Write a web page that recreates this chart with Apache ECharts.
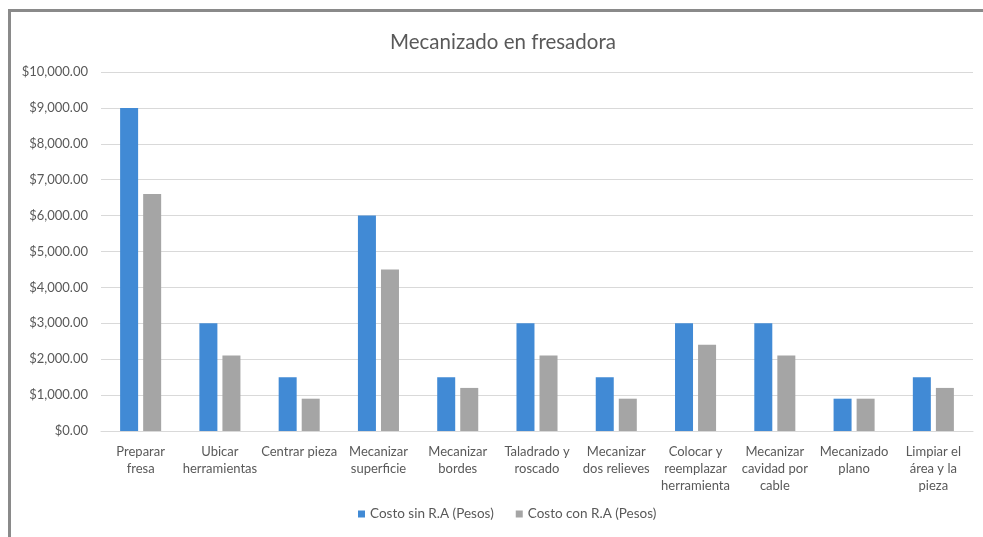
<!DOCTYPE html>
<html>
<head>
<meta charset="utf-8">
<script src="https://cdn.jsdelivr.net/npm/echarts@6/dist/echarts.min.js"></script>
<style>
  html, body { margin: 0; padding: 0; background: #ffffff; }
  #chart { width: 983px; height: 537px; }
</style>
</head>
<body>
<div id="chart"></div>
<script>
// Tareas del mecanizado en fresadora (etiquetas del eje X)
const categories = [
  'Preparar\nfresa',
  'Ubicar\nherramientas',
  'Centrar pieza',
  'Mecanizar\nsuperficie',
  'Mecanizar\nbordes',
  'Taladrado y\nroscado',
  'Mecanizar\ndos relieves',
  'Colocar y\nreemplazar\nherramienta',
  'Mecanizar\ncavidad por\ncable',
  'Mecanizado\nplano',
  'Limpiar el\nárea y la\npieza'
];

const seriesNames = ['Costo sin R.A (Pesos)', 'Costo con R.A (Pesos)'];

// Costo sin R.A (Pesos)
const costoSinRA = [9000, 3000, 1500, 6000, 1500, 3000, 1500, 3000, 3000, 900, 1500];
// Costo con R.A (Pesos)
const costoConRA = [6600, 2100, 900, 4500, 1200, 2100, 900, 2400, 2100, 900, 1200];

// Eje Y: 0 a 10,000 cada 1,000
const yMin = 0;
const yMax = 10000;
const yStep = 1000;

const fontFamily = 'Lato, "Open Sans", "DejaVu Sans", sans-serif';
const textColor = '#595959';

function formatMoney(v) {
  return '$' + v.toLocaleString('en-US', { minimumFractionDigits: 2, maximumFractionDigits: 2 });
}

const chart = echarts.init(document.getElementById('chart'), null, { renderer: 'canvas' });

chart.setOption({
  backgroundColor: '#ffffff',
  animation: false,
  color: ['#418AD5', '#A5A5A5'],
  graphic: [
    {
      type: 'rect',
      shape: { x: 9.5, y: 10.5, width: 1100, height: 700 },
      style: { fill: 'none', stroke: '#8a8a8a', lineWidth: 3 },
      silent: true,
      z: 100
    }
  ],
  title: {
    text: 'Mecanizado en fresadora',
    left: 385,
    top: 27,
    textStyle: { fontFamily, fontSize: 20.5, fontWeight: 'normal', color: textColor }
  },
  legend: {
    bottom: 11,
    left: 353,
    itemWidth: 7,
    itemHeight: 7,
    itemGap: 22,
    icon: 'rect',
    textStyle: { fontFamily, fontSize: 13.5, color: textColor },
    data: seriesNames
  },
  grid: { left: 101, right: 10, top: 72, bottom: 106 },
  xAxis: {
    type: 'category',
    data: categories,
    axisLine: { show: true, lineStyle: { color: '#d9d9d9', width: 1 } },
    axisTick: { show: false },
    axisLabel: {
      interval: 0,
      margin: 12,
      fontFamily,
      fontSize: 13,
      lineHeight: 17,
      color: textColor
    }
  },
  yAxis: {
    type: 'value',
    min: yMin,
    max: yMax,
    interval: yStep,
    axisLine: { show: false },
    axisTick: { show: false },
    splitLine: { lineStyle: { color: '#d9d9d9', width: 1 } },
    axisLabel: {
      margin: 13,
      fontFamily,
      fontSize: 13,
      color: textColor,
      formatter: formatMoney
    }
  },
  series: [
    {
      name: seriesNames[0],
      type: 'bar',
      data: costoSinRA,
      barWidth: 18,
      barGap: '28%'
    },
    {
      name: seriesNames[1],
      type: 'bar',
      data: costoConRA,
      barWidth: 18,
      barGap: '28%'
    }
  ]
});
</script>
</body>
</html>
